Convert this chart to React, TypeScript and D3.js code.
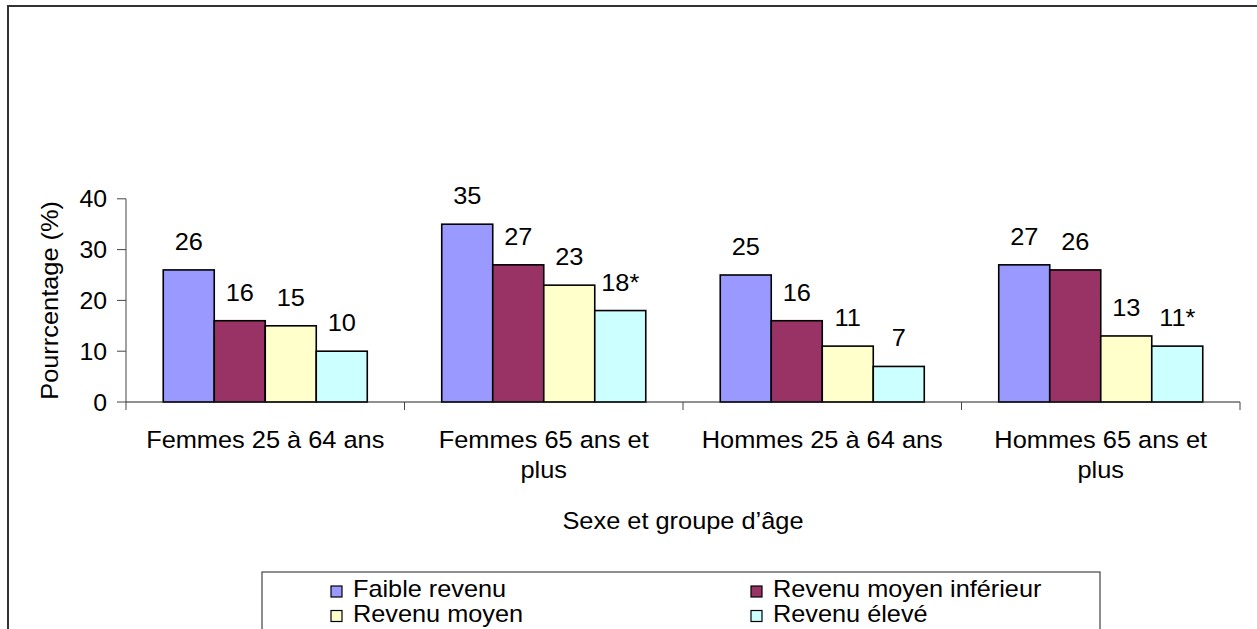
import React from "react";
import * as d3 from "d3";

const categories = [
  "Femmes 25 à 64 ans",
  "Femmes 65 ans et plus",
  "Hommes 25 à 64 ans",
  "Hommes 65 ans et plus",
];
const categoryLines = [
  ["Femmes 25 à 64 ans"],
  ["Femmes 65 ans et", "plus"],
  ["Hommes 25 à 64 ans"],
  ["Hommes 65 ans et", "plus"],
];
const seriesNames = [
  "Faible revenu",
  "Revenu moyen inférieur",
  "Revenu moyen",
  "Revenu élevé",
];
const seriesColors = ["#9999FF", "#993366", "#FFFFCC", "#CCFFFF"];
const faibleRevenu = [26, 35, 25, 27];
const revenuMoyenInferieur = [16, 27, 16, 26];
const revenuMoyen = [15, 23, 11, 13];
const revenuEleve = [10, 18, 7, 11];
// label suffix per series (rows) and category (columns)
const labelSuffix = [
  ["", "", "", ""],
  ["", "", "", ""],
  ["", "", "", ""],
  ["", "*", "", "*"],
];
const yTicks = [0, 10, 20, 30, 40];
const yTitle = "Pourrcentage (%)";
const xTitle = "Sexe et groupe d’âge";

const seriesValues = [faibleRevenu, revenuMoyenInferieur, revenuMoyen, revenuEleve];

const FONT = "'Liberation Sans', Arial, Helvetica, sans-serif";

export default function App() {
  const W = 1257;
  const H = 629;
  const left = 126;
  const right = 1240;
  const y0 = 402;
  const yTop = 198.8;

  const x0 = d3.scaleBand<string>().domain(categories).range([left, right]).paddingInner(0).paddingOuter(0);
  const x1 = d3
    .scaleBand<string>()
    .domain(seriesNames)
    .range([0, x0.bandwidth()])
    .paddingInner(0)
    .paddingOuter(0.73);
  const y = d3.scaleLinear().domain([0, 40]).range([y0, yTop]);

  const sx = 1.08;

  return (
    <svg
      width={W}
      height={H}
      style={{ position: "fixed", left: 0, top: 0, background: "#fff" }}
      fontFamily={FONT}
    >
      <rect x={0} y={0} width={W} height={H} fill="#fff" />
      {/* outer border */}
      <rect x={8} y={6} width={W + 20} height={H + 20} fill="none" stroke="#333" strokeWidth={2} />

      {/* y axis */}
      <line x1={left} x2={left} y1={y(40)} y2={y0} stroke="#444" strokeWidth={1} />
      {yTicks.map((t) => (
        <g key={t}>
          <line x1={left - 9} x2={left} y1={y(t)} y2={y(t)} stroke="#444" strokeWidth={1} />
          <g transform={`translate(${left - 19},${y(t) + 8.5}) scale(${sx},1)`}>
            <text textAnchor="end" fontSize={23} fill="#000">
              {t}
            </text>
          </g>
        </g>
      ))}

      {/* bars */}
      {categories.map((c, ci) => (
        <g key={c}>
          {seriesNames.map((s, si) => {
            const v = seriesValues[si][ci];
            const bx = (x0(c) as number) + (x1(s) as number);
            const bw = x1.bandwidth();
            return (
              <g key={s}>
                <rect
                  x={bx}
                  y={y(v)}
                  width={bw}
                  height={y0 - y(v)}
                  fill={seriesColors[si]}
                  stroke="#000"
                  strokeWidth={1.6}
                />
                <g transform={`translate(${bx + bw / 2},${y(v) - 20}) scale(${sx},1)`}>
                  <text textAnchor="middle" fontSize={23.5} fill="#000">
                    {v}
                    {labelSuffix[si][ci]}
                  </text>
                </g>
              </g>
            );
          })}
        </g>
      ))}

      {/* x axis */}
      <line x1={left} x2={right} y1={y0} y2={y0} stroke="#222" strokeWidth={1.2} />
      {[...categories.map((c) => x0(c) as number), right].map((tx, i) => (
        <line key={i} x1={tx} x2={tx} y1={y0} y2={y0 + 8} stroke="#444" strokeWidth={1} />
      ))}
      {categories.map((c, ci) => {
        const cx = (x0(c) as number) + x0.bandwidth() / 2;
        return categoryLines[ci].map((ln, li) => (
          <g key={c + li} transform={`translate(${cx},${448 + li * 30}) scale(${sx},1)`}>
            <text textAnchor="middle" fontSize={23.5} fill="#000">
              {ln}
            </text>
          </g>
        ));
      })}

      {/* axis titles */}
      <g transform={`translate(${(left + right) / 2},529) scale(${sx},1)`}>
        <text textAnchor="middle" fontSize={23.5} fill="#000">
          {xTitle}
        </text>
      </g>
      <g transform={`translate(58,${(y0 + yTop) / 2}) rotate(-90) scale(${sx},1)`}>
        <text textAnchor="middle" fontSize={23.5} fill="#000">
          {yTitle}
        </text>
      </g>

      {/* legend */}
      <rect x={262} y={572} width={838} height={100} fill="#fff" stroke="#444" strokeWidth={1.2} />
      {seriesNames.map((s, i) => {
        const col = i % 2;
        const row = Math.floor(i / 2);
        const sqx = col === 0 ? 331 : 751;
        const base = 597 + row * 24.5;
        return (
          <g key={s}>
            <rect x={sqx} y={base - 11} width={11} height={11} fill={seriesColors[i]} stroke="#000" strokeWidth={1.2} />
            <g transform={`translate(${sqx + 22},${base}) scale(1.1,1)`}>
              <text fontSize={23} fill="#000">
                {s}
              </text>
            </g>
          </g>
        );
      })}
    </svg>
  );
}
